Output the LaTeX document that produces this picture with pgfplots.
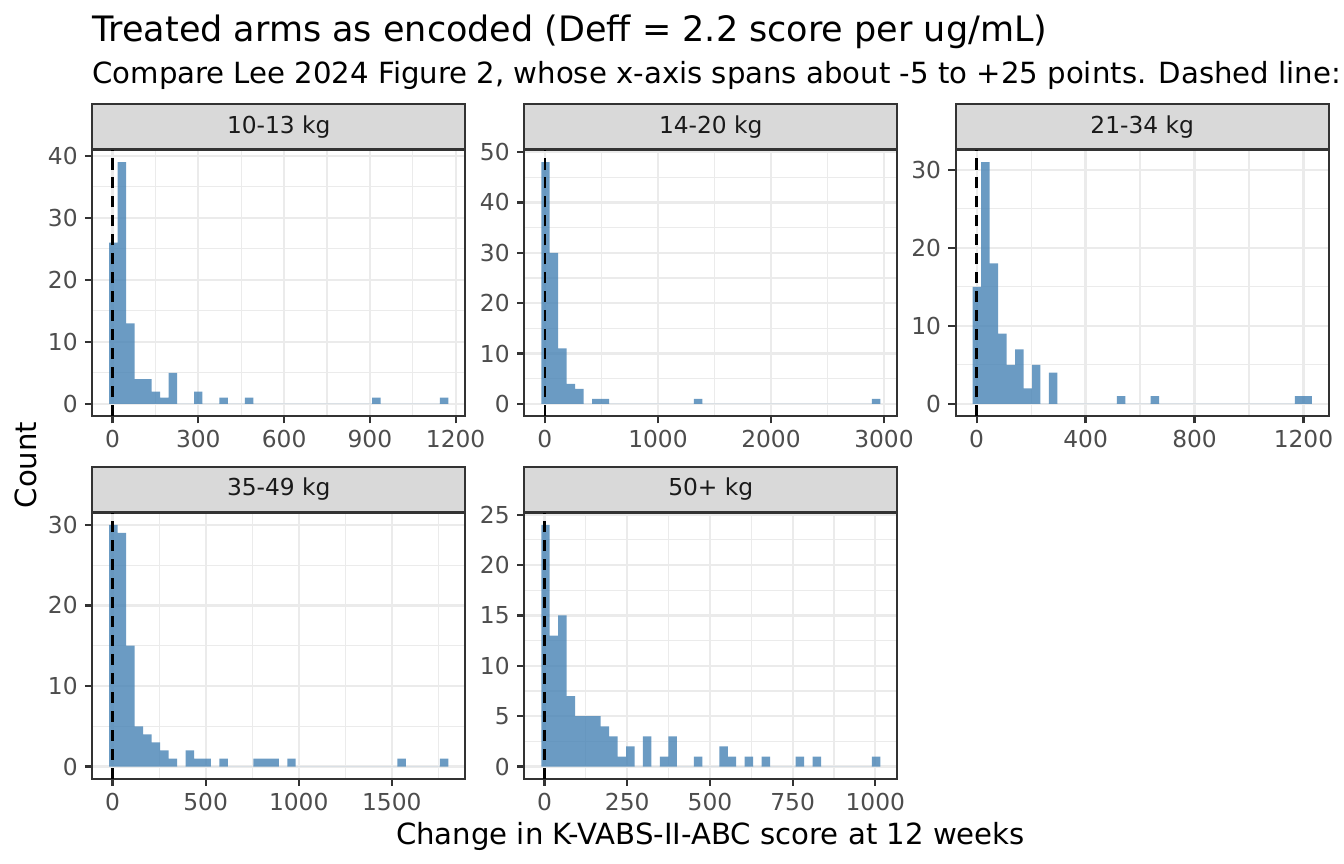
\documentclass[border=0pt]{standalone}
\usepackage{pgfplots}
\pgfplotsset{compat=1.18}
\usepackage{fontspec}
\setmainfont{DejaVu Sans}
\definecolor{grey92}{HTML}{EBEBEB}
\definecolor{grey20}{HTML}{333333}
\definecolor{grey30}{HTML}{4D4D4D}
\definecolor{grey85}{HTML}{D9D9D9}
\definecolor{grey10}{HTML}{1A1A1A}
\definecolor{steelblue}{RGB}{70,130,180}
\pgfplotsset{
  panel/.style={
    scale only axis, width=179.04pt, height=127.68pt, anchor=south west,
    axis line style={grey20, line width=1pt},
    tick align=outside, major tick length=3.5pt, minor tick length=0pt,
    tick pos=left,
    tick style={grey20, line width=1.1pt},
    grid=both,
    major grid style={grey92, line width=1.1pt},
    minor grid style={grey92, line width=0.55pt},
    ticklabel style={font=\fontsize{11.2}{13}\selectfont, text=grey30},
    /pgf/number format/assume math mode=true,
    /pgf/number format/1000 sep={},
    scaled ticks=false,
    every axis title/.style={at={(0.5,1)}, anchor=south, fill=grey85, draw=grey20,
      line width=1pt, minimum width=179.04pt, minimum height=21.36pt, inner sep=0pt,
      font=\fontsize{11.2}{13}\selectfont, text=grey10},
  },
  bars/.style={ybar interval, fill=steelblue, fill opacity=0.8, draw=none},
  zline/.style={black, line width=1.35pt, dash pattern=on 5.3pt off 3.8pt},
}
\begin{document}
\begin{tikzpicture}
\useasboundingbox (0pt,0pt) rectangle (645.12pt,414.72pt);
\begin{scope}
\clip (0pt,0pt) rectangle (645.12pt,414.72pt);
\node[anchor=base west, inner sep=0pt, font=\fontsize{16.8}{20}\selectfont] at (44.16pt,394.8pt) {Treated arms as encoded (Deff = 2.2 score per ug/mL)};
\node[anchor=base west, inner sep=0pt, font=\fontsize{14}{17}\selectfont] at (44.16pt,374.4pt) {Compare Lee 2024 Figure 2, whose x-axis spans about -5 to +25 points. Dashed line:};
\node[anchor=base, inner sep=0pt, font=\fontsize{14}{17}\selectfont] at (341.04pt,9.12pt) {Change in K-VABS-II-ABC score at 12 weeks};
\node[anchor=base, rotate=90, inner sep=0pt, font=\fontsize{14}{17}\selectfont] at (17.28pt,191.52pt) {Count};
\end{scope}

% 10-13 kg
\begin{axis}[panel, at={(44.30pt,215.04pt)}, title={10-13 kg},
  xmin=-70.9, xmax=1233.7, ymin=-1.95, ymax=40.95,
  xtick={0,300,600,900,1200}, minor xtick={150,450,750,1050},
  ytick={0,10,20,30,40}, minor ytick={5,15,25,35}]
\addplot[bars] coordinates {(-11.6,26) (18.05,39) (47.7,13) (77.35,4) (107.0,4) (136.65,2) (166.3,1) (195.95,5) (225.6,0) (284.9,2) (314.55,0) (373.85,1) (403.5,0) (462.8,1) (492.45,0) (907.55,1) (937.2,0) (1144.75,1) (1174.4,0)};
\addplot[zline] coordinates {(0,-1.95) (0,40.95)};
\end{axis}

% 14-20 kg
\begin{axis}[panel, at={(251.66pt,215.04pt)}, title={14-20 kg},
  xmin=-182.4, xmax=3117.6, ymin=-2.4, ymax=50.4,
  xtick={0,1000,2000,3000}, minor xtick={500,1500,2500},
  ytick={0,10,20,30,40,50}, minor ytick={5,15,25,35,45}]
\addplot[bars] coordinates {(-32.4,48) (42.6,30) (117.6,11) (192.6,4) (267.6,3) (342.6,0) (417.6,1) (492.6,1) (567.6,0) (1317.6,1) (1392.6,0) (2892.6,1) (2967.6,0)};
\addplot[zline] coordinates {(0,-2.4) (0,50.4)};
\end{axis}

% 21-34 kg
\begin{axis}[panel, at={(458.74pt,215.04pt)}, title={21-34 kg},
  xmin=-76.9, xmax=1292.8, ymin=-1.55, ymax=32.55,
  xtick={0,400,800,1200}, minor xtick={200,600,1000},
  ytick={0,10,20,30}, minor ytick={5,15,25}]
\addplot[bars] coordinates {(-14.65,15) (16.48,31) (47.61,18) (78.74,9) (109.87,5) (141.0,7) (172.13,2) (203.26,5) (234.39,0) (265.52,4) (296.65,0) (514.56,1) (545.69,0) (639.08,1) (670.21,0) (1168.29,1) (1199.42,1) (1230.55,0)};
\addplot[zline] coordinates {(0,-1.55) (0,32.55)};
\end{axis}

% 35-49 kg
\begin{axis}[panel, at={(44.30pt,40.94pt)}, title={35-49 kg},
  xmin=-109, xmax=1894.8, ymin=-1.5, ymax=31.5,
  xtick={0,500,1000,1500}, minor xtick={250,750,1250,1750},
  ytick={0,10,20,30}, minor ytick={5,15,25}]
\addplot[bars] coordinates {(-17.9,30) (27.64,29) (73.18,15) (118.72,5) (164.26,4) (209.8,3) (255.34,2) (300.88,1) (346.42,0) (391.96,2) (437.5,1) (483.04,1) (528.58,0) (574.12,1) (619.66,0) (756.28,1) (801.82,1) (847.36,1) (892.9,0) (938.44,1) (983.98,0) (1530.46,1) (1576.0,0) (1758.16,1) (1803.7,0)};
\addplot[zline] coordinates {(0,-1.5) (0,31.5)};
\end{axis}

% 50+ kg
\begin{axis}[panel, at={(251.66pt,40.94pt)}, title={50+ kg},
  xmin=-61.3, xmax=1066.4, ymin=-1.2, ymax=25.2,
  xtick={0,250,500,750,1000}, minor xtick={125,375,625,875},
  ytick={0,5,10,15,20,25}, minor ytick={2.5,7.5,12.5,17.5,22.5}]
\addplot[bars] coordinates {(-10.05,24) (15.58,13) (41.21,15) (66.84,7) (92.47,5) (118.1,5) (143.73,5) (169.36,4) (194.99,3) (220.62,1) (246.25,2) (271.88,0) (297.51,3) (323.14,0) (348.77,1) (374.4,3) (400.03,0) (451.29,1) (476.92,0) (528.18,2) (553.81,1) (579.44,0) (605.07,1) (630.7,0) (656.33,1) (681.96,0) (758.85,1) (784.48,0) (810.11,1) (835.74,0) (989.52,1) (1015.15,0)};
\addplot[zline] coordinates {(0,-1.2) (0,25.2)};
\end{axis}
\end{tikzpicture}
\end{document}
